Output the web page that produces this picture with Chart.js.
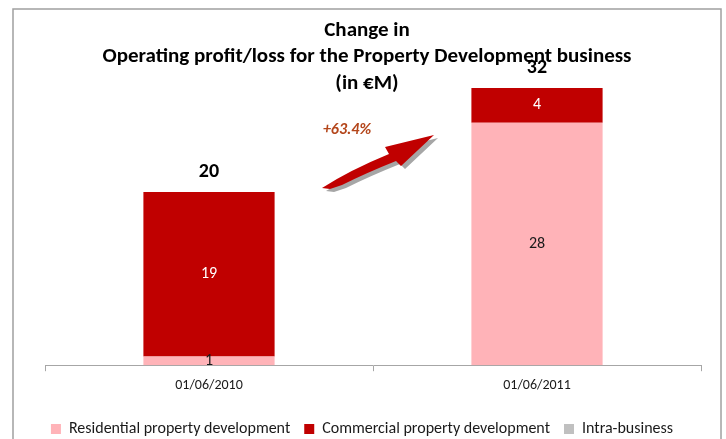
<!DOCTYPE html>
<html>
<head>
<meta charset="utf-8">
<script src="https://cdn.jsdelivr.net/npm/chart.js@4"></script>
<style>
  html, body { margin: 0; padding: 0; background: #fff; }
</style>
</head>
<body>
<canvas id="myChart" width="726" height="439"></canvas>
<script>
const FONT = 'Carlito, Lato, sans-serif'

const categories = ['01/06/2010', '01/06/2011']
const residential = [1, 28]
const commercial = [19, 4]
const intraBusiness = [0, 0]
const totals = [20, 32]
const titleLines = ['Change in', 'Operating profit/loss for the Property Development business', '(in €M)']
const changeLabel = '+63.4%'

const ctx = document.getElementById('myChart')

// frame, title, arrow, segment and total labels
const decorations = {
    id: 'decorations',
    beforeDraw(chart) {
        const c = chart.ctx
        c.save()
        c.strokeStyle = '#a0a0a0'
        c.lineWidth = 1.5
        c.strokeRect(13, 9, 708, 460)
        c.restore()
    },
    afterDatasetsDraw(chart) {
        const c = chart.ctx
        c.save()
        c.textAlign = 'center'
        c.textBaseline = 'middle'
        // values inside the segments
        chart.data.datasets.forEach((ds, di) => {
            const meta = chart.getDatasetMeta(di)
            meta.data.forEach((bar, i) => {
                const v = ds.data[i]
                if (!v) return
                c.font = '16px ' + FONT
                c.fillStyle = ds.labelColor
                c.fillText(v, bar.x, (bar.y + bar.base) / 2)
            })
        })
        // totals on top
        const x = chart.scales.x, y = chart.scales.y
        c.fillStyle = '#000'
        c.font = 'bold 20px ' + FONT
        totals.forEach((t, i) => {
            c.fillText(t, x.getPixelForValue(i), y.getPixelForValue(t) - 20)
        })
        // title
        c.font = 'bold 21px ' + FONT
        titleLines.forEach((line, i) => {
            c.fillText(line, 367, 30.5 + i * 26.5)
        })
        // growth arrow
        const arrow = (dx, dy, color) => {
            c.beginPath()
            c.moveTo(322 + dx, 188 + dy)
            c.quadraticCurveTo(350 + dx, 170 + dy, 389 + dx, 154 + dy)
            c.lineTo(385 + dx, 147 + dy)
            c.lineTo(434 + dx, 135 + dy)
            c.lineTo(401 + dx, 166 + dy)
            c.lineTo(396 + dx, 161 + dy)
            c.quadraticCurveTo(366 + dx, 173 + dy, 342 + dx, 185 + dy)
            c.lineTo(330 + dx, 189 + dy)
            c.closePath()
            c.fillStyle = color
            c.fill()
        }
        arrow(4, 3, '#a6a6a6')
        arrow(0, 0, '#c00000')
        c.font = 'italic bold 16px ' + FONT
        c.fillStyle = '#b4461b'
        c.fillText(changeLabel, 347, 130)
        c.restore()
    }
}

new Chart(ctx, {
    type: 'bar',
    data: {
        labels: categories,
        datasets: [{
            label: 'Residential property development',
            data: residential,
            backgroundColor: '#ffb3b8',
            labelColor: '#1a1a1a'
        }, {
            label: 'Commercial property development',
            data: commercial,
            backgroundColor: '#c00000',
            labelColor: '#ffffff'
        }, {
            label: 'Intra-business',
            data: intraBusiness,
            backgroundColor: '#c0c0c0',
            labelColor: '#1a1a1a'
        }]
    },
    options: {
        responsive: false,
        animation: false,
        events: [],
        layout: { padding: { left: 23, right: 25, top: 62, bottom: -8 } },
        datasets: { bar: { categoryPercentage: 0.8, barPercentage: 0.5 } },
        scales: {
            x: {
                stacked: true,
                border: { color: '#a6a6a6' },
                grid: { drawOnChartArea: false, tickLength: 6, color: '#a6a6a6' },
                ticks: { font: { family: FONT, size: 14 }, color: '#1a1a1a', padding: 6 },
                afterFit: (scale) => { scale.height += 7 }
            },
            y: {
                stacked: true, min: 0, max: 35,
                ticks: { display: false },
                grid: { display: false },
                border: { display: false },
                afterFit: (scale) => { scale.width = 22 }
            }
        },
        plugins: {
            legend: {
                position: 'bottom',
                labels: { boxWidth: 10, boxHeight: 10, font: { family: FONT, size: 16 }, color: '#1a1a1a', padding: 14 }
            },
            tooltip: { enabled: false }
        }
    },
    plugins: [decorations]
})
</script>
</body>
</html>
